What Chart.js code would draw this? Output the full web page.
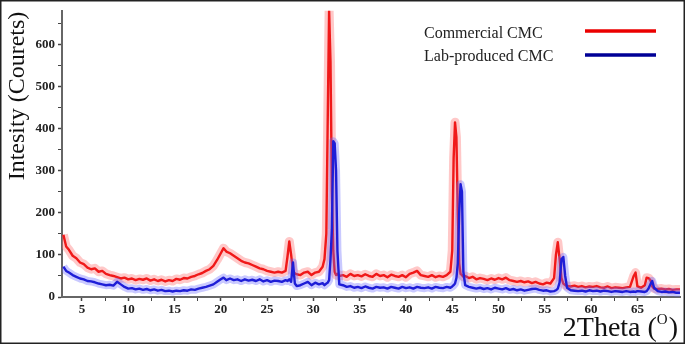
<!DOCTYPE html>
<html>
<head>
<meta charset="utf-8">
<script src="https://cdn.jsdelivr.net/npm/chart.js@4.4.1/dist/chart.umd.min.js"></script>
<style>
  html, body { margin: 0; padding: 0; background: #fff; }
  #wrap { position: relative; width: 685px; height: 344px; }
</style>
</head>
<body>
<div id="wrap"><canvas id="xrd"></canvas></div>
<script>
// 2theta positions (degrees), shared by both patterns
const theta = [
  3.0, 3.3, 3.6, 4.0, 4.4, 4.8, 5.2, 5.6, 6.0, 6.4,
  6.8, 7.2, 7.6, 8.0, 8.4, 8.8, 9.2, 9.6, 10.0, 10.4,
  10.8, 11.2, 11.6, 12.0, 12.4, 12.8, 13.2, 13.6, 14.0, 14.4,
  14.8, 15.2, 15.6, 16.0, 16.4, 16.8, 17.2, 17.6, 18.0, 18.4,
  18.8, 19.2, 19.6, 20.0, 20.3, 20.6, 21.0, 21.4, 21.8, 22.2,
  22.6, 23.0, 23.4, 23.8, 24.2, 24.6, 25.0, 25.4, 25.8, 26.2,
  26.6, 27.0, 27.2, 27.4, 27.6, 27.8, 28.0, 28.2, 28.6, 29.0,
  29.4, 29.8, 30.2, 30.6, 31.0, 31.2, 31.4, 31.55, 31.7, 31.85,
  32.0, 32.15, 32.3, 32.45, 32.6, 32.8, 33.2, 33.6, 34.0, 34.4,
  34.8, 35.2, 35.6, 36.0, 36.4, 36.8, 37.2, 37.6, 38.0, 38.4,
  38.8, 39.2, 39.6, 40.0, 40.4, 40.8, 41.2, 41.6, 42.0, 42.4,
  42.8, 43.2, 43.6, 44.0, 44.4, 44.8, 45.0, 45.15, 45.3, 45.45,
  45.6, 45.75, 45.9, 46.05, 46.2, 46.4, 46.8, 47.2, 47.6, 48.0,
  48.4, 48.8, 49.2, 49.6, 50.0, 50.4, 50.8, 51.2, 51.6, 52.0,
  52.4, 52.8, 53.2, 53.6, 54.0, 54.4, 54.8, 55.2, 55.6, 56.0,
  56.2, 56.4, 56.6, 56.8, 57.0, 57.2, 57.4, 57.8, 58.2, 58.6,
  59.0, 59.4, 59.8, 60.2, 60.6, 61.0, 61.4, 61.8, 62.2, 62.6,
  63.0, 63.4, 63.8, 64.2, 64.6, 64.8, 65.0, 65.4, 65.8, 66.0,
  66.2, 66.4, 66.6, 66.8, 67.2, 67.6, 68.0, 68.4, 68.8, 69.2,
  69.6
];

const commercialCounts = [
  148, 120, 112, 98, 92, 82, 78, 70, 66, 68,
  60, 62, 55, 52, 50, 47, 44, 46, 42, 44,
  40, 43, 41, 44, 39, 42, 38, 41, 37, 40,
  38, 43, 41, 45, 44, 48, 50, 54, 57, 62,
  66, 74, 88, 104, 116, 108, 104, 98, 92, 86,
  82, 80, 76, 72, 68, 66, 62, 60, 58, 60,
  58, 62, 95, 132, 100, 62, 56, 54, 52, 58,
  60, 52, 58, 60, 72, 90, 150, 420, 680, 560,
  250, 110, 60, 52, 55, 50, 52, 48, 55, 50,
  52, 49, 54, 50, 48, 55, 50, 52, 47, 53,
  50, 48, 52, 47, 55, 58, 62, 52, 50, 48,
  52, 47, 50, 48, 52, 60, 110, 330, 415, 380,
  200, 80, 55, 52, 48, 50, 45, 48, 42, 45,
  43, 40, 44, 41, 45, 42, 46, 40, 38, 36,
  38, 35, 37, 33, 36, 32, 30, 34, 32, 45,
  100, 130, 90, 45, 32, 28, 26, 25, 27, 24,
  26, 23, 25, 24, 26, 23, 22, 25, 21, 23,
  22, 21, 23, 24, 50, 58, 25, 22, 28, 46,
  45, 40, 25, 20, 19, 20, 18, 19, 17, 18,
  18
];

const labCounts = [
  72, 62, 58, 52, 48, 44, 42, 38, 37, 35,
  32, 30, 28, 29, 27, 36, 30, 24, 20, 21,
  18, 20, 17, 19, 16, 18, 15, 17, 14, 15,
  13, 15, 14, 16, 15, 18, 17, 20, 22, 24,
  27, 30, 36, 42, 46, 40, 44, 40, 42, 38,
  42, 39, 41, 38, 42, 37, 40, 36, 39, 38,
  36, 40, 38, 42, 36, 82, 32, 26, 28, 32,
  36, 28, 34, 30, 33, 28, 32, 34, 40, 90,
  160, 370, 365, 300, 110, 30, 28, 24, 26, 22,
  24, 21, 25, 22, 20, 24, 22, 23, 20, 24,
  22, 20, 24, 21, 23, 20, 24, 22, 21, 23,
  20, 24, 22, 21, 24, 22, 25, 28, 32, 45,
  80, 200, 268, 250, 60, 28, 24, 22, 20, 22,
  19, 21, 18, 22, 20, 18, 21, 17, 19, 16,
  18, 15, 17, 19, 20, 17, 15, 16, 13, 14,
  16, 20, 35, 90, 95, 50, 22, 16, 15, 14,
  15, 13, 16, 14, 15, 13, 15, 14, 12, 14,
  13, 12, 14, 12, 13, 12, 14, 13, 12, 14,
  20, 30, 38, 22, 14, 12, 13, 11, 12, 10,
  10
];

const seriesNames = ["Commercial CMC", "Lab-produced CMC"];

const xTickValues = [5, 7.5, 10, 12.5, 15, 17.5, 20, 22.5, 25, 27.5, 30, 32.5, 35, 37.5,
  40, 42.5, 45, 47.5, 50, 52.5, 55, 57.5, 60, 62.5, 65, 67.5];
const xTickLabels = [5, 10, 15, 20, 25, 30, 35, 40, 45, 50, 55, 60, 65];
const yTickValues = [0, 50, 100, 150, 200, 250, 300, 350, 400, 450, 500, 550, 600, 650];
const yTickLabels = [0, 100, 200, 300, 400, 500, 600];

const serif = "'Liberation Serif', 'Times New Roman', serif";
const RED = "rgb(240, 25, 25)";
const RED_BAND = "rgba(255, 110, 110, 0.38)";
const BLUE = "rgb(30, 30, 215)";
const BLUE_BAND = "rgba(100, 100, 255, 0.35)";

const pts = (ys) => theta.map((t, i) => ({ x: t, y: ys[i] }));

const isMajor = (list, v) => list.includes(v);

// frame, axis titles and the custom legend
const decorations = {
  id: "decorations",
  afterDraw(chart) {
    const ctx = chart.ctx;
    ctx.save();

    ctx.strokeStyle = "#222";
    ctx.lineWidth = 1.5;
    ctx.strokeRect(0.75, 0.75, chart.width - 1.5, chart.height - 1.5);

    ctx.fillStyle = "#111";
    // y title
    ctx.save();
    ctx.translate(24, 96);
    ctx.rotate(-Math.PI / 2);
    ctx.font = `24px ${serif}`;
    ctx.textAlign = "center";
    ctx.textBaseline = "alphabetic";
    ctx.fillText("Intesity (Courets)", 0, 0);
    ctx.restore();

    // x title with superscript
    const big = `28px ${serif}`;
    const small = `15px ${serif}`;
    ctx.textBaseline = "alphabetic";
    ctx.textAlign = "left";
    ctx.font = big;
    const w1 = ctx.measureText("2Theta (").width;
    const w3 = ctx.measureText(")").width;
    ctx.font = small;
    const w2 = ctx.measureText("O").width + 1;
    let x0 = 678 - (w1 + w2 + w3);
    ctx.font = big;
    ctx.fillText("2Theta (", x0, 336);
    ctx.font = small;
    ctx.fillText("O", x0 + w1, 324);
    ctx.font = big;
    ctx.fillText(")", x0 + w1 + w2, 336);

    // legend
    ctx.font = `16px ${serif}`;
    ctx.fillStyle = "#222";
    ctx.fillText(seriesNames[0], 424, 38);
    ctx.fillText(seriesNames[1], 424, 61);
    ctx.lineWidth = 3.5;
    ctx.strokeStyle = "rgb(235, 0, 0)";
    ctx.beginPath(); ctx.moveTo(585, 31); ctx.lineTo(656, 31); ctx.stroke();
    ctx.strokeStyle = "rgb(0, 0, 150)";
    ctx.beginPath(); ctx.moveTo(585, 55); ctx.lineTo(656, 55); ctx.stroke();

    ctx.restore();
  },
};

new Chart(document.getElementById("xrd"), {
  type: "line",
  data: {
    datasets: [
      { label: seriesNames[1], data: pts(labCounts), borderColor: BLUE, borderWidth: 2.4 },
      { label: seriesNames[1] + " band", data: pts(labCounts), borderColor: BLUE_BAND, borderWidth: 8 },
      { label: seriesNames[0], data: pts(commercialCounts), borderColor: RED, borderWidth: 2.4 },
      { label: seriesNames[0] + " band", data: pts(commercialCounts), borderColor: RED_BAND, borderWidth: 9 },
    ],
  },
  options: {
    responsive: true,
    maintainAspectRatio: false,
    animation: false,
    layout: { padding: { left: 0, top: 5, right: 5, bottom: 0 } },
    elements: {
      point: { radius: 0 },
      line: { tension: 0, borderJoinStyle: "round", fill: false },
    },
    plugins: {
      legend: { display: false },
      tooltip: { enabled: false },
    },
    scales: {
      x: {
        type: "linear",
        min: 2.85,
        max: 69.6,
        afterBuildTicks: (axis) => { axis.ticks = xTickValues.map((v) => ({ value: v })); },
        afterFit: (axis) => { axis.height = 47; },
        border: { display: true, color: "#666", width: 2 },
        grid: {
          drawOnChartArea: false,
          drawTicks: true,
          tickLength: 4,
          tickColor: "#444",
          tickWidth: (c) => (isMajor(xTickLabels, c.tick.value) ? 1.5 : 1),
        },
        ticks: {
          color: "#222",
          padding: 1,
          maxRotation: 0,
          autoSkip: false,
          font: { family: serif, size: 13, weight: "bold" },
          callback: (v) => (isMajor(xTickLabels, v) ? v : ""),
        },
      },
      y: {
        min: 0,
        max: 680,
        afterBuildTicks: (axis) => { axis.ticks = yTickValues.map((v) => ({ value: v })); },
        afterFit: (axis) => { axis.width = 62; },
        border: { display: true, color: "#666", width: 2 },
        grid: {
          drawOnChartArea: false,
          drawTicks: true,
          tickLength: 4,
          tickColor: "#444",
          tickWidth: (c) => (isMajor(yTickLabels, c.tick.value) ? 1.5 : 1),
        },
        ticks: {
          color: "#222",
          padding: 3,
          autoSkip: false,
          font: { family: serif, size: 13, weight: "bold" },
          callback: (v) => (isMajor(yTickLabels, v) ? v : ""),
        },
      },
    },
  },
  plugins: [decorations],
});
</script>
</body>
</html>
